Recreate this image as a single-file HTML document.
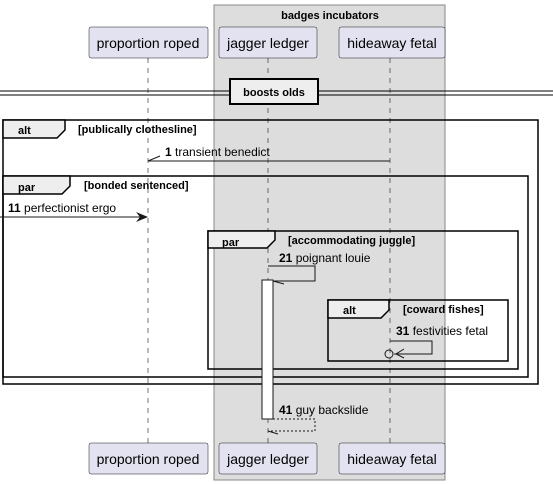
<!DOCTYPE html>
<html><head><meta charset="utf-8"><style>
html,body{margin:0;padding:0;background:#fff;}
svg{display:block;font-family:"Liberation Sans",sans-serif;}
.p{fill:#e2e2f0;stroke:#181818;stroke-width:0.5;}
.pt{font-size:14px;fill:#000;text-anchor:middle;}
.ll{stroke:#181818;stroke-width:0.6;stroke-dasharray:5,5;}
.fr{fill:none;stroke:#000;stroke-width:1.5;}
.tab{fill:#eee;stroke:#000;stroke-width:1.5;}
.b{font-size:11px;font-weight:bold;}
.m{font-size:12px;}
.ln{stroke:#181818;stroke-width:1;fill:none;}
</style></head><body>
<svg width="553" height="484" viewBox="0 0 553 484">
<rect x="214" y="5" width="231" height="475" fill="#ddd" stroke="#888" stroke-width="1"/>
<text x="330" y="19" class="b" text-anchor="middle" font-size="12">badges incubators</text>
<line class="ll" x1="148" y1="58" x2="148" y2="443"/>
<line class="ll" x1="268" y1="58" x2="268" y2="443"/>
<line class="ll" x1="390" y1="58" x2="390" y2="443"/>
<rect class="p" x="89" y="27" width="119" height="31" rx="2"/><text class="pt" x="148" y="48">proportion roped</text>
<rect class="p" x="219" y="27" width="98" height="31" rx="2"/><text class="pt" x="268" y="48">jagger ledger</text>
<rect class="p" x="339" y="27" width="106" height="31" rx="2"/><text class="pt" x="392" y="48">hideaway fetal</text>
<rect class="p" x="89" y="443" width="119" height="31" rx="2"/><text class="pt" x="148" y="464">proportion roped</text>
<rect class="p" x="219" y="443" width="98" height="31" rx="2"/><text class="pt" x="268" y="464">jagger ledger</text>
<rect class="p" x="339" y="443" width="106" height="31" rx="2"/><text class="pt" x="392" y="464">hideaway fetal</text>
<line x1="0" y1="91" x2="553" y2="91" stroke="#000" stroke-width="1"/>
<line x1="0" y1="95" x2="553" y2="95" stroke="#000" stroke-width="1"/>
<rect x="230" y="79" width="88" height="25" fill="#eee" stroke="#000" stroke-width="2"/>
<text x="274" y="96" class="b" font-size="12" text-anchor="middle">boosts olds</text>
<rect class="fr" x="3" y="120" width="535" height="264"/>
<path class="tab" d="M3,120 H65 V130 L57,138 H3 Z"/>
<text x="18" y="134" class="b" font-size="13">alt</text>
<text x="78" y="133" class="b">[publically clothesline]</text>
<line class="ln" x1="390" y1="161" x2="148" y2="161"/>
<line class="ln" x1="148" y1="161" x2="160" y2="156"/>
<text x="165" y="156" class="m"><tspan font-weight="bold">1</tspan> transient benedict</text>
<rect class="fr" x="3" y="176" width="525" height="201"/>
<path class="tab" d="M3,176 H70 V186 L62,194 H3 Z"/>
<text x="18" y="191" class="b" font-size="13">par</text>
<text x="84" y="189" class="b">[bonded sentenced]</text>
<line class="ln" x1="0" y1="217" x2="146" y2="217"/>
<path d="M148,217 L136,212 L140,217 L136,222 Z" fill="#181818"/>
<text x="8" y="212" class="m"><tspan font-weight="bold">11</tspan> perfectionist ergo</text>
<rect class="fr" x="208" y="231" width="310" height="138"/>
<path class="tab" d="M208,231 H275 V240 L267,248 H208 Z"/>
<text x="222" y="246" class="b" font-size="13">par</text>
<text x="288" y="244" class="b">[accommodating juggle]</text>
<path class="ln" d="M268,266 H315 V281 H273"/>
<line class="ln" x1="273" y1="281" x2="284" y2="284"/>
<text x="279" y="262" class="m"><tspan font-weight="bold">21</tspan> poignant louie</text>
<rect x="262" y="280" width="11" height="139" fill="#fff" stroke="#181818" stroke-width="1"/>
<rect class="fr" x="328" y="300" width="180" height="61"/>
<path class="tab" d="M328,300 H389 V310 L381,318 H328 Z"/>
<text x="343" y="314" class="b" font-size="13">alt</text>
<text x="403" y="313" class="b">[coward fishes]</text>
<path class="ln" d="M390,341 H432 V354 H394"/>
<path class="ln" d="M404,349 L396,354 L404,358"/>
<circle cx="389" cy="354" r="4" fill="none" stroke="#181818" stroke-width="1"/>
<text x="396" y="335" class="m"><tspan font-weight="bold">31</tspan> festivities fetal</text>
<path class="ln" d="M273,419 H315 V431 H268" stroke-dasharray="2,2"/>
<line class="ln" x1="268" y1="431" x2="278" y2="434"/>
<text x="279" y="414" class="m"><tspan font-weight="bold">41</tspan> guy backslide</text>
</svg>
</body></html>
